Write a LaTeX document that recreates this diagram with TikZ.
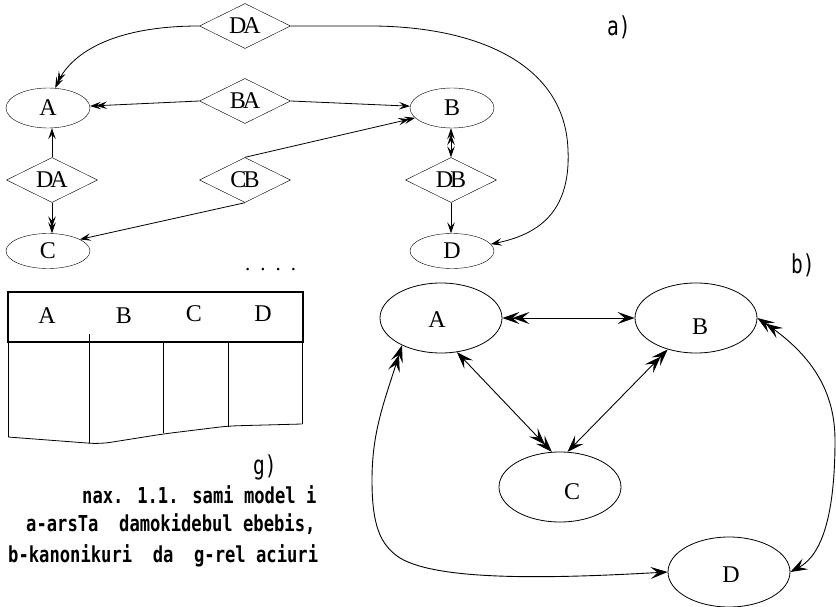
\documentclass[tikz,border=0pt]{standalone}
\usepackage{fontspec}
\setmainfont{Liberation Serif}
\newfontfamily\capfont[FakeStretch=0.78]{DejaVu Sans Mono}
\newfontfamily\labfont[FakeStretch=0.75]{DejaVu Sans Mono}
\usetikzlibrary{shapes.geometric,arrows.meta}
\tikzset{
  tipa/.tip={Stealth[length=11pt,width=7.5pt,inset=4.5pt]},
  tipaa/.tip={Stealth[length=11pt,width=7.5pt,inset=4.5pt,sep=-5pt]Stealth[length=11pt,width=7.5pt,inset=4.5pt]},
  tipb/.tip={Stealth[length=17pt,width=12pt,inset=7pt]},
  tipbb/.tip={Stealth[length=17pt,width=12pt,inset=7pt,sep=-7pt]Stealth[length=17pt,width=12pt,inset=7pt]},
  ella/.style={draw, ellipse, minimum width=84pt, minimum height=40pt, inner sep=0pt, font=\fontsize{24}{24}\selectfont},
  ellc/.style={ella, minimum height=35pt},
  dia/.style={draw, diamond, aspect=2, minimum width=91pt, minimum height=45pt, inner sep=0pt, font=\fontsize{24}{24}\selectfont},
  ellb/.style={draw, ellipse, minimum width=122pt, minimum height=70pt, inner sep=0pt, line width=0.8pt},
  letb/.style={font=\fontsize{24}{24}\selectfont, inner sep=0pt},
  lina/.style={line width=0.8pt},
  linb/.style={line width=0.9pt},
  tlab/.style={font=\labfont\fontsize{26}{26}\selectfont, inner sep=0pt, anchor=base west},
  capt/.style={font=\capfont\bfseries\fontsize{22}{22}\selectfont, inner sep=0pt, anchor=base west},
}
\begin{document}
\begin{tikzpicture}[x=1pt,y=-1pt]
\useasboundingbox (0,0) rectangle (836,607);
% ---------- a)
\node[ella] (A) at (48,108) {A};
\node[ella] (B) at (452,108) {B};
\node[ellc] (C) at (48,251) {C};
\node[ellc] (D) at (452,251) {D};
\node[dia] (dA1) at (245,26) {D\kern-3ptA};
\node[dia] (dBA) at (245,101) {B\kern-3ptA};
\node[dia] (dA2) at (52,180) {D\kern-3ptA};
\node[dia] (dCB) at (245,180) {C\kern-3ptB};
\node[dia] (dDB) at (451,180) {D\kern-3ptB};
\node[font=\fontsize{21}{21}\selectfont, inner sep=0pt, anchor=base west] (dots) at (245,270) {.\hspace{10pt}.\hspace{10pt}.\hspace{10pt}.};
\draw[lina,-{tipaa}] (dA1.west) .. controls (110,26) and (70,55) .. (A.70);
\draw[lina,-{tipa}] (dA1.east) -- (370,26) .. controls (470,26) and (565,60) .. (568,150) .. controls (571,215) and (535,235) .. (D.10);
\draw[lina,-{tipaa}] (dBA.west) -- (A);
\draw[lina,-{tipa}] (dBA.east) -- (B);
\draw[lina,-{tipaa}] (dCB.north) -- (B.195);
\draw[lina,-{tipa}] (dCB.south) -- (C.20);
\draw[lina,-{tipa}] (dA2.north) -- (dA2.north |- A.south);
\draw[lina,-{tipaa}] (dA2.south) -- (dA2.south |- C.north);
\draw[lina,{tipa}-{tipaa}] (dDB.north) -- (dDB.north |- B.south);
\draw[lina,-{tipa}] (dDB.south) -- (dDB.south |- D.north);
\node[tlab] (la) at (607,36) {a)};
% ---------- b)
\node[ellb] (bA) at (441,318) {};
\node[ellb] (bB) at (696,318) {};
\node[ellb] (bC) at (560,487) {};
\node[ellb] (bD) at (729,572) {};
\node[letb] (tA) at (437,320) {A};
\node[letb] (tB) at (700,327) {B};
\node[letb] (tC) at (572,492) {C};
\node[letb] (tD) at (731,575) {D};
\draw[linb,{tipbb}-{tipb}] (bA.east) -- (bB.west);
\draw[linb,{tipb}-{tipbb}] (bA.295) -- (bC.103);
\draw[linb,{tipb}-{tipbb}] (bC.78) -- (bB.228);
\draw[linb,{tipbb}-{tipb}] (bB.east) .. controls (805,350) and (835,385) .. (835,440) .. controls (835,515) and (822,555) .. (bD.east);
\draw[linb,{tipbb}-{tipb}] (bA.215) .. controls (385,400) and (372,430) .. (372,480) .. controls (372,525) and (380,545) .. (400,558) .. controls (440,582) and (560,578) .. (bD.west);
\node[tlab] (lb) at (791,273) {b)};
% ---------- g)
\draw[line width=2pt] (8,292) rectangle (303,342);
\node[letb] (gA) at (47,316) {A};
\node[letb] (gB) at (124,316) {B};
\node[letb] (gC) at (194,314) {C};
\node[letb] (gD) at (263,314) {D};
\draw[lina] (8,342) -- (8,437);
\draw[lina] (89,334) -- (89,443);
\draw[lina] (163,342) -- (163,433);
\draw[lina] (228,342) -- (228,427);
\draw[lina] (302,342) -- (302,424);
\draw[lina, rounded corners=10pt] (8,437) -- (100,444) -- (163,434) -- (228,426) -- (302,424);
\node[tlab] (lg) at (253,474) {g)};
\node[capt] (c1) at (82,503) {nax. 1.1. sami model i};
\node[capt] (c2) at (26,531) {a-arsTa\ \ damokidebul ebebis,};
\node[capt] (c3) at (8,562) {b-kanonikuri\ \ da\ \ g-rel aciuri};
\end{tikzpicture}
\end{document}
